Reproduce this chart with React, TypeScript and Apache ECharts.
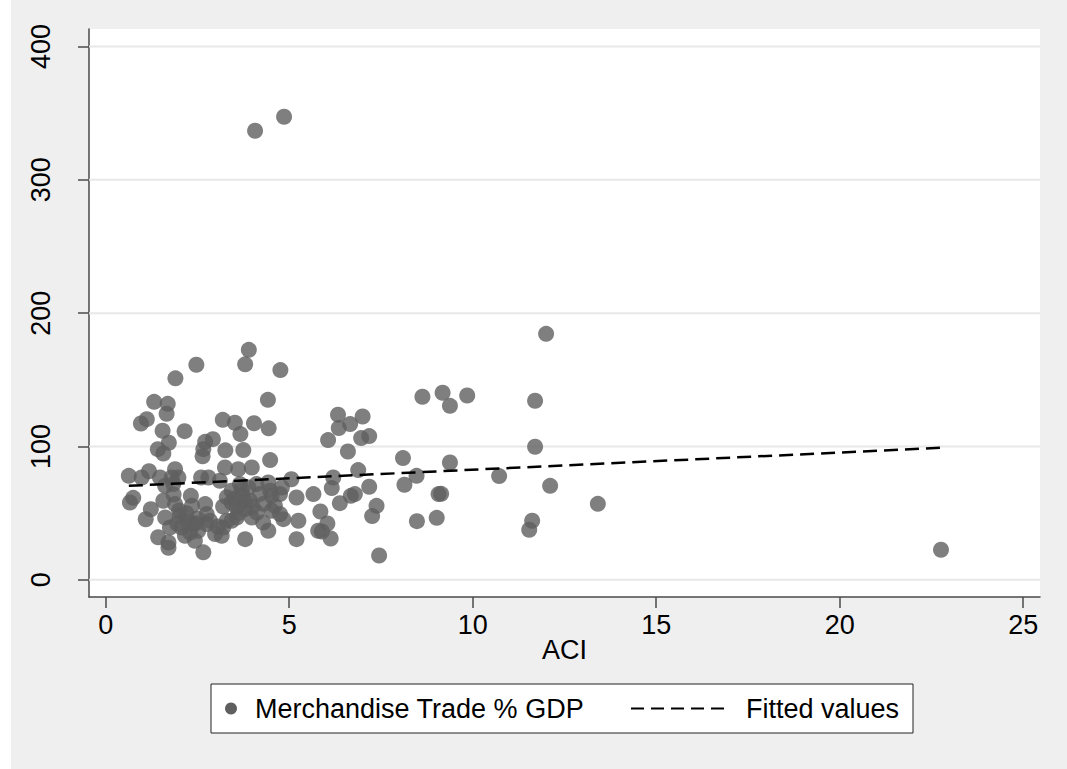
import React, { useEffect, useRef } from "react";
import * as echarts from "echarts";

// ACI (x) and Merchandise Trade % GDP (y)
const aci = [
  0.63, 0.98, 1.18, 0.66, 0.75, 1.23, 1.09, 0.96, 1.12, 1.32,
  1.48, 1.43, 1.55, 1.42, 1.57, 1.72, 1.69, 1.66, 1.9, 2.47,
  2.15, 2.71, 2.66, 2.92, 2.64, 1.89, 1.84, 1.62, 1.8, 1.98,
  1.57, 1.89, 1.62, 2.02, 1.75, 2.07, 1.71, 2.16, 2.52, 1.71,
  2.66, 2.75, 2.75, 2.71, 2.3, 2.32, 2.6, 2.8, 2.39, 2.84,
  2.98, 3.2, 3.3, 3.16, 3.8, 3.9, 3.8, 4.76, 4.42, 3.19,
  3.52, 4.04, 4.44, 3.67, 3.26, 3.75, 4.48, 3.25, 3.61, 3.98,
  3.11, 3.43, 3.71, 4.11, 4.43, 4.8, 5.06, 3.43, 3.93, 4.2,
  4.52, 4.61, 3.8, 3.57, 3.98, 4.29, 4.52, 4.84, 4.43, 3.66,
  3.89, 3.8, 3.57, 3.43, 4.75, 4.75, 4.48, 5.2, 5.2, 5.25,
  5.79, 5.66, 8.63, 9.18, 9.38, 9.85, 6.33, 7.0, 6.35, 6.66,
  6.06, 6.96, 7.18, 6.6, 8.1, 9.38, 6.88, 6.2, 6.16, 8.47,
  10.72, 7.18, 8.14, 6.68, 6.79, 6.38, 9.07, 5.85, 7.38, 7.26,
  6.04, 5.89, 6.13, 8.48, 9.02, 7.45, 9.14, 4.07, 4.86, 12.0,
  22.76, 13.41, 11.7, 11.7, 12.11, 11.62, 11.54, 2.22, 2.43, 2.35,
  3.3, 3.52, 3.72, 4.0, 4.12, 3.62, 3.2, 2.0, 2.2, 1.95,
  2.5, 2.45, 3.05, 4.3, 1.85,
];
const trade = [
  78.0, 76.7, 81.4, 58.0, 61.5, 52.9, 45.4, 117.2, 120.5, 133.5,
  76.7, 31.9, 111.8, 98.0, 94.7, 102.8, 132.0, 124.5, 151.1, 161.3,
  111.5, 103.5, 98.0, 105.5, 92.6, 83.0, 71.8, 70.5, 76.7, 76.7,
  59.3, 56.8, 46.7, 48.0, 39.2, 39.2, 28.0, 33.0, 36.8, 24.0,
  20.6, 41.8, 49.3, 56.8, 35.5, 63.0, 76.7, 76.7, 41.8, 44.3,
  34.3, 39.2, 44.3, 33.0, 30.5, 172.5, 161.6, 157.3, 135.0, 120.0,
  117.8, 117.4, 113.6, 109.3, 97.1, 97.3, 89.8, 84.2, 83.0, 84.2,
  74.3, 66.8, 68.0, 71.8, 73.0, 69.2, 75.4, 58.0, 59.3, 64.3,
  63.0, 55.5, 53.0, 46.7, 46.7, 43.0, 51.8, 45.5, 36.8, 71.8,
  69.2, 59.3, 54.2, 44.3, 64.3, 49.3, 66.8, 61.7, 30.5, 44.3,
  36.8, 64.3, 137.3, 140.3, 130.5, 138.2, 123.8, 122.5, 113.8, 116.8,
  104.8, 106.3, 107.8, 96.2, 91.3, 88.0, 82.3, 76.7, 68.8, 78.0,
  77.8, 69.8, 71.3, 63.0, 64.3, 57.5, 64.3, 51.2, 55.5, 47.8,
  42.2, 36.2, 31.0, 44.0, 46.5, 18.2, 64.5, 336.8, 347.3, 184.5,
  22.5, 57.0, 134.3, 99.8, 70.5, 44.3, 37.5, 44.3, 29.3, 55.5,
  62.0, 61.0, 63.5, 55.0, 50.5, 50.0, 55.0, 52.0, 50.0, 42.0,
  46.0, 42.5, 40.0, 57.0, 64.0,
];
// Fitted values (linear fit) at the ends of the ACI range
const fittedAci = [0.63, 22.76];
const fittedValues = [70.5, 99.0];

const xTicks = [0, 5, 10, 15, 20, 25];
const yTicks = [0, 100, 200, 300, 400];
const xTitle = "ACI";
const scatterName = "Merchandise Trade % GDP";
const fittedName = "Fitted values";

export default function App() {
  const ref = useRef<HTMLDivElement>(null);

  useEffect(() => {
    const chart = echarts.init(ref.current!, null, { renderer: "svg" });
    const FONT = '"Liberation Sans", Arial, Helvetica, sans-serif';
    const FS = 27;
    const axisColor = "#4a4a4a";
    const dotColor = "#5f5f5f";
    // extents of the plot region (outer frame) in data units
    const xA = [-0.455, 25.458];
    const yA = [-12.9, 413.1];

    chart.setOption({
      animation: false,
      grid: [
        { left: 89, top: 29, width: 951, height: 568, show: true, backgroundColor: "#ffffff", borderWidth: 0 },
        { left: 105.7, top: 46.5, width: 917.5, height: 533.3 },
      ],
      xAxis: [
        {
          type: "value", gridIndex: 0, min: xA[0], max: xA[1],
          axisLine: { show: true, onZero: false, lineStyle: { color: axisColor, width: 1.5 } },
          axisTick: { show: false }, axisLabel: { show: false }, splitLine: { show: false },
          name: xTitle, nameLocation: "middle", nameGap: 39,
          nameTextStyle: { fontSize: FS, color: "#000", fontFamily: FONT },
        },
        {
          type: "value", gridIndex: 1, min: xTicks[0], max: xTicks[xTicks.length - 1], interval: 5,
          offset: 17.2,
          axisLine: { show: false, onZero: false },
          axisTick: { show: true, length: 11, lineStyle: { color: axisColor, width: 1.5 } },
          axisLabel: { margin: 14, fontSize: FS, color: "#000", fontFamily: FONT },
          splitLine: { show: false },
        },
      ],
      yAxis: [
        {
          type: "value", gridIndex: 0, min: yA[0], max: yA[1],
          axisLine: { show: true, onZero: false, lineStyle: { color: axisColor, width: 1.5 } },
          axisTick: { show: false }, axisLabel: { show: false }, splitLine: { show: false },
        },
        {
          type: "value", gridIndex: 1, min: yTicks[0], max: yTicks[yTicks.length - 1], interval: 100,
          offset: 16.7,
          axisLine: { show: false, onZero: false },
          axisTick: { show: true, length: 11, lineStyle: { color: axisColor, width: 1.5 } },
          axisLabel: { rotate: 90, margin: 35, fontSize: FS, color: "#000", fontFamily: FONT },
          splitLine: { show: false },
        },
      ],
      series: [
        ...yTicks.map((v) => ({
          type: "line", xAxisIndex: 0, yAxisIndex: 0, silent: true, symbol: "none", z: 1,
          data: [[xA[0], v], [xA[1], v]],
          lineStyle: { color: "#e8e8e8", width: 2 },
        })),
        {
          type: "scatter", name: scatterName, xAxisIndex: 1, yAxisIndex: 1, z: 2, clip: false,
          data: aci.map((x, i) => [x, trade[i]]),
          symbol: "circle", symbolSize: 16,
          itemStyle: { color: dotColor },
        },
        {
          type: "line", name: fittedName, xAxisIndex: 1, yAxisIndex: 1, z: 3, symbol: "none",
          data: fittedAci.map((x, i) => [x, fittedValues[i]]),
          lineStyle: { color: "#000", width: 2.5, type: [14, 7] },
        },
      ],
      graphic: [
        { type: "rect", shape: { x: 211, y: 684, width: 702, height: 49 }, style: { fill: "#fff", stroke: "#222", lineWidth: 1 } },
        { type: "circle", shape: { cx: 231, cy: 708.5, r: 6 }, style: { fill: dotColor } },
        { type: "text", x: 255, y: 709, style: { text: scatterName, fontSize: FS, fontFamily: FONT, fill: "#000", align: "left", verticalAlign: "middle" } },
        { type: "line", shape: { x1: 631, y1: 708.5, x2: 729, y2: 708.5 }, style: { stroke: "#000", lineWidth: 2, lineDash: [13, 7] } },
        { type: "text", x: 746, y: 709, style: { text: fittedName, fontSize: FS, fontFamily: FONT, fill: "#000", align: "left", verticalAlign: "middle" } },
      ],
    });
    return () => chart.dispose();
  }, []);

  return (
    <div style={{ position: "fixed", left: 0, top: 0, width: 1067, height: 769, background: "#ffffff" }}>
      <div style={{ position: "absolute", left: 11, top: 0, width: 1056, height: 769, background: "#efefef" }} />
      <div ref={ref} style={{ position: "absolute", left: 0, top: 0, width: 1067, height: 769 }} />
    </div>
  );
}
